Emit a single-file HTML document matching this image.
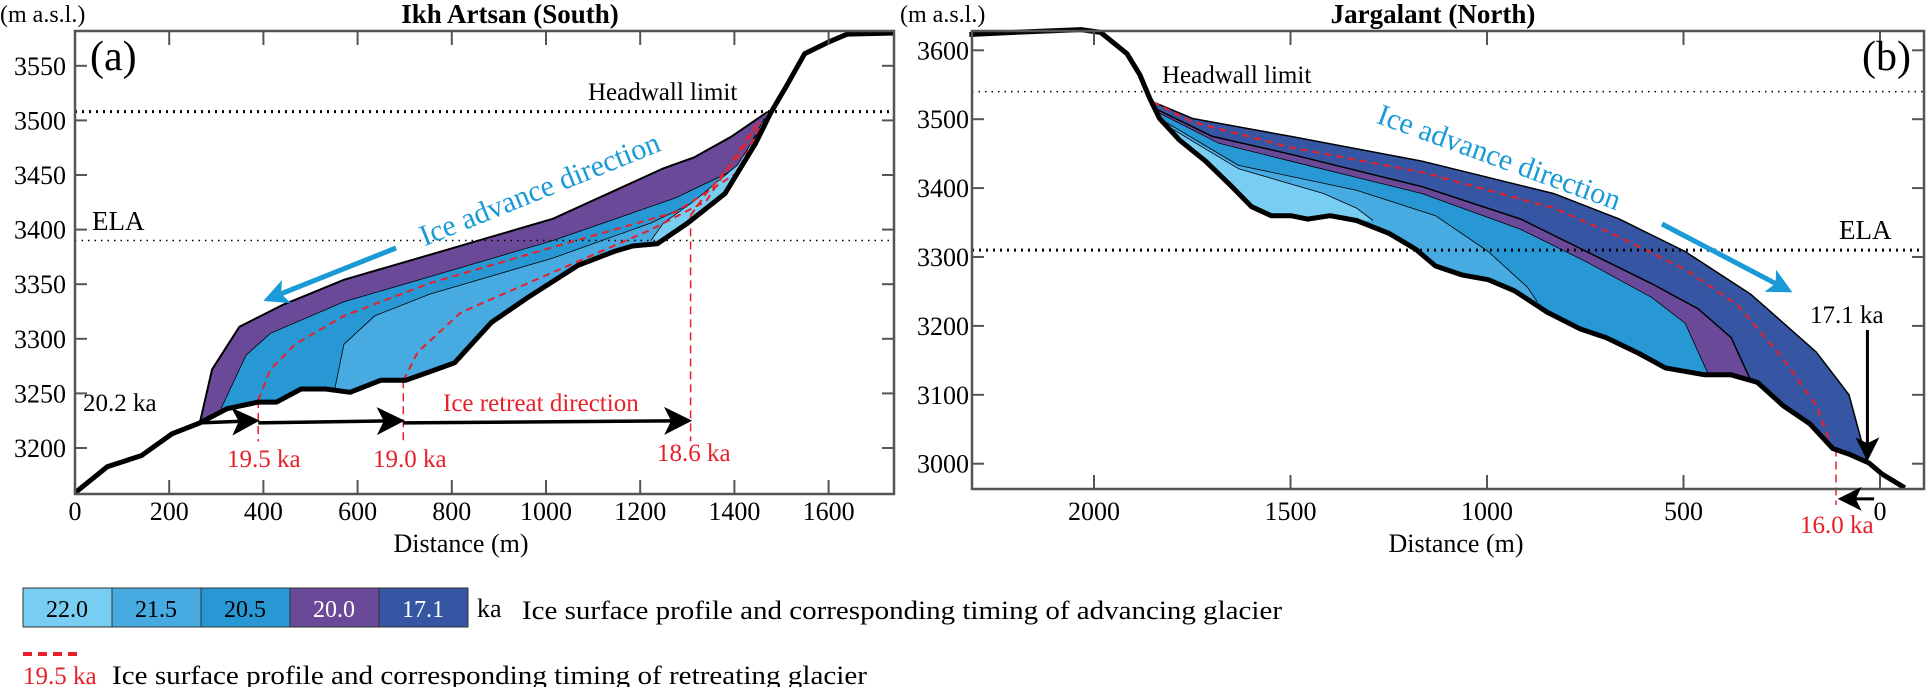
<!DOCTYPE html>
<html><head><meta charset="utf-8"><style>
html,body{margin:0;padding:0;background:#fff;}
svg{display:block;font-family:"Liberation Serif","DejaVu Serif",serif;}
svg text{font-family:"Liberation Serif","DejaVu Serif",serif;}
</style></head><body>
<svg id="fig" width="1926" height="687" viewBox="0 0 1926 687" font-family="Liberation Serif, serif"></svg>
<script>
// ---------- DATA ----------
const terrainA = [[0,3159],[69,3183],[141,3193],[206,3213],[265,3223],[323,3236],[389,3242],[428,3242],[480,3254],[532,3254],[584,3251],[649,3262],[702,3262],[754,3270],[806,3278],[884,3315],[962,3338],[1067,3367],[1145,3380],[1184,3385],[1236,3387],[1301,3406],[1380,3433],[1445,3479],[1477,3507],[1510,3531],[1549,3561],[1601,3572],[1640,3579],[1740,3580]];
const layerA_200 = [[265,3223],[291,3272],[349,3311],[441,3331],[571,3354],[754,3377],[1015,3410],[1249,3456],[1314,3466],[1393,3485],[1471,3508]];
const layerA_205 = [[310,3236],[363,3285],[415,3305],[571,3334],[754,3357],[1015,3390],[1275,3429],[1406,3456],[1464,3502]];
const layerA_215 = [[552,3255],[571,3295],[636,3321],[754,3341],[1015,3374],[1223,3406],[1380,3439],[1464,3498]];
const layerA_220 = [[1223,3390],[1249,3406],[1314,3426],[1406,3459],[1464,3498]];
const retreatA_195 = [[389,3244],[415,3272],[467,3295],[571,3321],[754,3351],[1015,3384],[1275,3416],[1406,3452],[1458,3498]];
const retreatA_190 = [[697,3262],[728,3288],[819,3324],[1015,3361],[1223,3400],[1340,3426],[1445,3495]];
const retreatA_186 = [[1307,3413],[1340,3433],[1406,3466],[1451,3498]];
const retreatA_pos = [389,697,1307];
const retreatA_lbl = ["19.5 ka","19.0 ka","18.6 ka"];
const xTicksA = [0,200,400,600,800,1000,1200,1400,1600];
const yTicksA = [3200,3250,3300,3350,3400,3450,3500,3550];
const headwallA = 3508, elaA = 3390;

const terrainB = [[2317,3623],[2167,3627],[2033,3630],[1983,3626],[1916,3595],[1883,3564],[1858,3530],[1833,3501],[1783,3470],[1716,3439],[1649,3402],[1599,3373],[1549,3360],[1499,3360],[1457,3355],[1399,3360],[1332,3353],[1248,3334],[1181,3311],[1131,3287],[1064,3274],[997,3267],[930,3251],[847,3220],[764,3196],[697,3183],[613,3160],[546,3139],[446,3129],[379,3129],[312,3118],[246,3084],[179,3058],[120,3022],[79,3014],[28,3001],[-5,2985],[-63,2965]];
const layerB_171 = [[1858,3527],[1749,3501],[1499,3475],[1165,3439],[830,3392],[663,3355],[496,3308],[329,3246],[162,3162],[79,3100],[32,3001]];
const layerB_200 = [[1850,3517],[1699,3475],[1499,3449],[1165,3402],[914,3355],[747,3308],[580,3261],[463,3225],[379,3183],[329,3121]];
const layerB_205 = [[1841,3511],[1682,3465],[1499,3439],[1165,3392],[914,3340],[747,3293],[580,3241],[496,3204],[438,3131]];
const layerB_215 = [[1833,3501],[1632,3433],[1332,3397],[1131,3360],[997,3308],[897,3256],[872,3235]];
const layerB_220 = [[1816,3491],[1632,3428],[1415,3392],[1332,3371],[1290,3353]];
const retreatB_160 = [[1850,3525],[1749,3496],[1499,3459],[1165,3423],[830,3371],[663,3329],[496,3282],[362,3230],[246,3152],[162,3084],[120,3022]];
const xTicksB = [2000,1500,1000,500,0];
const yTicksB = [3000,3100,3200,3300,3400,3500,3600];
const headwallB = 3540, elaB = 3310;

// ---------- SCALES ----------
const xa = d => 75 + d*0.4710, ya = e => 448 - (e-3200)*1.092;
const xb = d => 1880 - d*0.393, yb = e => 463.7 - (e-3000)*0.689;
const NS = "http://www.w3.org/2000/svg";
const svg = document.getElementById('fig');
function mk(tag, attrs, parent){const el=document.createElementNS(NS,tag);for(const k in attrs)el.setAttribute(k,attrs[k]);(parent||svg).appendChild(el);return el;}
function txt(s,x,y,attrs,parent){const t=mk('text',Object.assign({x:x,y:y,'font-size':26,'font-family':'Liberation Serif, DejaVu Serif, serif'},attrs),parent);t.textContent=s;return t;}
function pstr(pts,fx,fy){return pts.map(p=>fx(p[0]).toFixed(1)+','+fy(p[1]).toFixed(1)).join(' ');}
function slice(terr,a,b){const lo=Math.min(a,b),hi=Math.max(a,b);return terr.filter(p=>p[0]>lo&&p[0]<hi);}
function layer(top,terr,fx,fy,color,sw,name){
  const s=slice(terr,top[0][0],top[top.length-1][0]).slice().reverse();
  const poly=top.concat(s);
  const el=mk('polygon',{points:pstr(poly,fx,fy),fill:color,stroke:'none'});
  
  
  const ln=mk('polyline',{points:pstr(top,fx,fy),fill:'none',stroke:'#000','stroke-width':sw});
  
  
}
function frame(x0,y0,x1,y1,name){
  const r=mk('rect',{x:x0,y:y0,width:x1-x0,height:y1-y0,fill:'none',stroke:'#555','stroke-width':2.5});
  
  
}
mk('defs',{}).innerHTML='<marker id="ah" markerWidth="8" markerHeight="8" refX="7" refY="4" orient="auto" markerUnits="strokeWidth"><path d="M0,0 L8,4 L0,8 L2,4 z" fill="#000"/></marker><marker id="ahb" markerWidth="5" markerHeight="5" refX="4" refY="2.5" orient="auto" markerUnits="strokeWidth"><path d="M0,0 L5,2.5 L0,5 L1.2,2.5 z" fill="#1a9ad6"/></marker>';

// ---------- PANEL A ----------
layer(layerA_200,terrainA,xa,ya,'#6a4a98',2,'ice-20-0-ka-a');
layer(layerA_205,terrainA,xa,ya,'#2898d5',0.8,'ice-20-5-ka-a');
layer(layerA_215,terrainA,xa,ya,'#47aae0',0.8,'ice-21-5-ka-a');
layer(layerA_220,terrainA,xa,ya,'#78cdf2',0.8,'ice-22-0-ka-a');
[retreatA_195,retreatA_190,retreatA_186].forEach((r,i)=>{
  const l=mk('polyline',{points:pstr(r,xa,ya),fill:'none',stroke:'#e8202a','stroke-width':2,'stroke-dasharray':'7 5'});
  
  
});
retreatA_pos.forEach((d,i)=>{
  const top=[retreatA_195,retreatA_190,retreatA_186][i][0][1];
  const l=mk('line',{x1:xa(d),x2:xa(d),y1:ya(top),y2:ya(3206),stroke:'#e8202a','stroke-width':1.5,'stroke-dasharray':'8 5'});
  
  
});
const tA=mk('polyline',{points:pstr(terrainA,xa,ya),fill:'none',stroke:'#000','stroke-width':5,'stroke-linejoin':'round'});


[[265,389],[389,697],[697,1307]].forEach((s,i)=>{
  const l=mk('line',{x1:xa(s[0]),x2:xa(s[1])-2,y1:ya(3223),y2:ya(3225),stroke:'#000','stroke-width':3.5,'marker-end':'url(#ah)'});
  
  
});
[[headwallA,3],[elaA,1.5]].forEach((h,i)=>{
  const l=mk('line',{x1:75,x2:894,y1:ya(h[0]),y2:ya(h[0]),stroke:'#000','stroke-width':h[1],'stroke-dasharray':h[1]>2?'2 5':'1.5 5'});
  
  
});
frame(75,31,894,494,'plot-frame-a');
xTicksA.forEach(v=>{
  mk('line',{x1:xa(v),x2:xa(v),y1:494,y2:480,stroke:'#555','stroke-width':2});
  mk('line',{x1:xa(v),x2:xa(v),y1:31,y2:45,stroke:'#555','stroke-width':2});
  const t=txt(String(v),xa(v),520,{'text-anchor':'middle'});
  
  
});
yTicksA.forEach(v=>{
  mk('line',{x1:75,x2:87,y1:ya(v),y2:ya(v),stroke:'#555','stroke-width':2});
  mk('line',{x1:882,x2:894,y1:ya(v),y2:ya(v),stroke:'#555','stroke-width':2});
  const t=txt(String(v),66,ya(v)+9,{'text-anchor':'end'});
  
  
});
const baA=mk('line',{x1:396,y1:248,x2:268,y2:299,stroke:'#1a9ad6','stroke-width':5,'marker-end':'url(#ahb)'});



// ---------- PANEL B ----------
layer(layerB_171,terrainB,xb,yb,'#3656a3',1.5,'ice-17-1-ka-b');
layer(layerB_200,terrainB,xb,yb,'#6a4a98',1.5,'ice-20-0-ka-b');
layer(layerB_205,terrainB,xb,yb,'#2898d5',0.8,'ice-20-5-ka-b');
layer(layerB_215,terrainB,xb,yb,'#47aae0',0.8,'ice-21-5-ka-b');
layer(layerB_220,terrainB,xb,yb,'#78cdf2',0.8,'ice-22-0-ka-b');
const rB=mk('polyline',{points:pstr(retreatB_160,xb,yb),fill:'none',stroke:'#e8202a','stroke-width':2,'stroke-dasharray':'7 5'});


const rv=mk('line',{x1:xb(112),x2:xb(112),y1:yb(3022),y2:yb(2940),stroke:'#e8202a','stroke-width':1.5,'stroke-dasharray':'8 5'});


const tB=mk('polyline',{points:pstr(terrainB,xb,yb),fill:'none',stroke:'#000','stroke-width':5,'stroke-linejoin':'round'});


[[headwallB,1.5],[elaB,3]].forEach((h,i)=>{
  const l=mk('line',{x1:972,x2:1924,y1:yb(h[0]),y2:yb(h[0]),stroke:'#000','stroke-width':h[1],'stroke-dasharray':h[1]>2?'2 5':'1.5 5'});
  
  
});
frame(972,31,1924,489,'plot-frame-b');
xTicksB.forEach(v=>{
  mk('line',{x1:xb(v),x2:xb(v),y1:489,y2:475,stroke:'#555','stroke-width':2});
  mk('line',{x1:xb(v),x2:xb(v),y1:31,y2:45,stroke:'#555','stroke-width':2});
  const t=txt(String(v),xb(v),520,{'text-anchor':'middle'});
  
  
});
yTicksB.forEach(v=>{
  mk('line',{x1:972,x2:984,y1:yb(v),y2:yb(v),stroke:'#555','stroke-width':2});
  mk('line',{x1:1912,x2:1924,y1:yb(v),y2:yb(v),stroke:'#555','stroke-width':2});
  const t=txt(String(v),969,yb(v)+9,{'text-anchor':'end'});
  
  
});
const a171=mk('line',{x1:xb(32),x2:xb(32),y1:yb(3194),y2:yb(3008),stroke:'#000','stroke-width':3,'marker-end':'url(#ah)'});


const a160=mk('line',{x1:xb(15),x2:xb(100),y1:yb(2949),y2:yb(2949),stroke:'#000','stroke-width':3,'marker-end':'url(#ah)'});


const baB=mk('line',{x1:1662,y1:224,x2:1788,y2:290,stroke:'#1a9ad6','stroke-width':5,'marker-end':'url(#ahb)'});


</script>

<svg width="1926" height="687" viewBox="0 0 1926 687" font-family="Liberation Serif, DejaVu Serif, serif" style="position:absolute;left:0;top:0">
  <text x="0" y="22" font-size="24">(m a.s.l.)</text>
  <text x="510" y="23" font-size="27" font-weight="bold" text-anchor="middle">Ikh Artsan (South)</text>
  <text x="90" y="70" font-size="42">(a)</text>
  <text x="588" y="100" font-size="25">Headwall limit</text>
  <text x="92" y="230" font-size="27">ELA</text>
  <text x="540" y="199" font-size="30" fill="#1a9ad6" text-anchor="middle" transform="rotate(-22 540 190)">Ice advance direction</text>
  <text x="83" y="411" font-size="25">20.2 ka</text>
  <text x="443" y="411" font-size="25" fill="#e8202a">Ice retreat direction</text>
  <text x="227" y="467" font-size="25" fill="#e8202a">19.5 ka</text>
  <text x="373" y="467" font-size="25" fill="#e8202a">19.0 ka</text>
  <text x="657" y="461" font-size="25" fill="#e8202a">18.6 ka</text>
  <text x="461" y="552" font-size="26" text-anchor="middle">Distance (m)</text>

  <text x="900" y="22" font-size="24">(m a.s.l.)</text>
  <text x="1433" y="23" font-size="27" font-weight="bold" text-anchor="middle">Jargalant (North)</text>
  <text x="1862" y="70" font-size="42">(b)</text>
  <text x="1162" y="83" font-size="25">Headwall limit</text>
  <text x="1839" y="239" font-size="27">ELA</text>
  <text x="1499" y="167" font-size="30" fill="#1a9ad6" text-anchor="middle" transform="rotate(20 1499 158)">Ice advance direction</text>
  <text x="1810" y="323" font-size="25">17.1 ka</text>
  <text x="1800" y="533" font-size="25" fill="#e8202a">16.0 ka</text>
  <text x="1456" y="552" font-size="26" text-anchor="middle">Distance (m)</text>

  <g>
    <rect x="23" y="588" width="89" height="39" fill="#78cdf2" stroke="#333"/>
    <rect x="112" y="588" width="89" height="39" fill="#47aae0" stroke="#333"/>
    <rect x="201" y="588" width="89" height="39" fill="#2898d5" stroke="#333"/>
    <rect x="290" y="588" width="89" height="39" fill="#6a4a98" stroke="#333"/>
    <rect x="379" y="588" width="89" height="39" fill="#3656a3" stroke="#333"/>
    <text x="67" y="617" font-size="24" text-anchor="middle">22.0</text>
    <text x="156" y="617" font-size="24" text-anchor="middle">21.5</text>
    <text x="245" y="617" font-size="24" text-anchor="middle">20.5</text>
    <text x="334" y="617" font-size="24" fill="#fff" text-anchor="middle">20.0</text>
    <text x="423" y="617" font-size="24" fill="#fff" text-anchor="middle">17.1</text>
    <text x="477" y="617" font-size="26">ka</text>
    <text x="522" y="619" font-size="26" textLength="760" lengthAdjust="spacingAndGlyphs">Ice surface profile and corresponding timing of advancing glacier</text>
    <line x1="23" y1="654" x2="79" y2="654" stroke="#e8202a" stroke-width="4" stroke-dasharray="9 6"/>
    <text x="23" y="684" font-size="25" fill="#e8202a">19.5 ka</text>
    <text x="112" y="684" font-size="26" textLength="755" lengthAdjust="spacingAndGlyphs">Ice surface profile and corresponding timing of retreating glacier</text>
  </g>
</svg>
</body></html>
